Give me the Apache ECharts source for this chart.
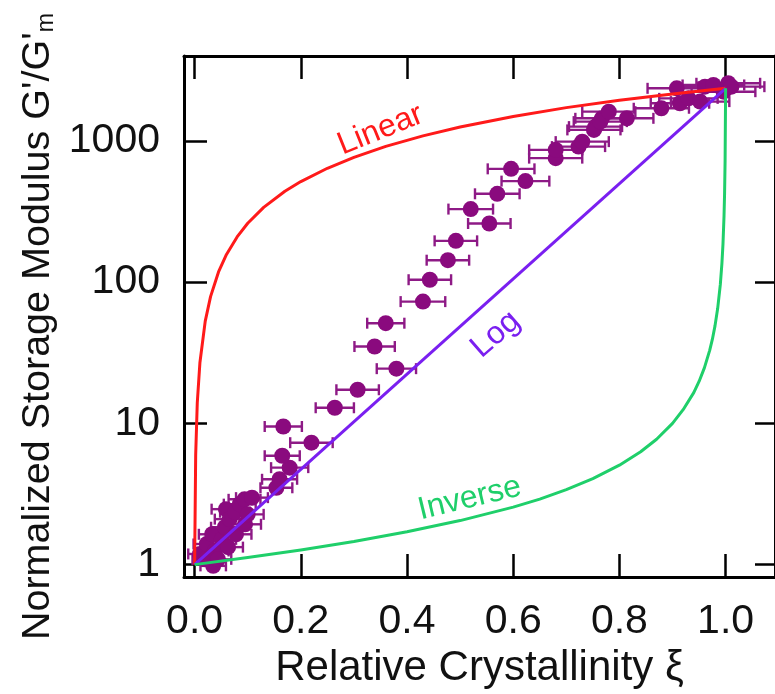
<!DOCTYPE html>
<html>
<head>
<meta charset="utf-8">
<script src="https://cdn.jsdelivr.net/npm/echarts@6/dist/echarts.min.js"></script>
<style>html,body{margin:0;padding:0;background:#fff}#chart{width:775px;height:694px}</style>
</head>
<body>
<div id="chart"></div>
<script>
// ---- axis ticks ----
var xTicks = [0, 0.2, 0.4, 0.6, 0.8, 1.0];
var yTicks = [1, 10, 100, 1000];

// ---- model curves ----
var linearXi = [0, 0.002, 0.005, 0.01, 0.02, 0.03, 0.045, 0.06, 0.08, 0.1, 0.13, 0.17, 0.2, 0.25, 0.3, 0.36, 0.43, 0.5, 0.6, 0.7, 0.8, 0.9, 1.0];
var linearG  = [1, 6, 14, 27, 53, 79, 118, 157, 209, 261, 338, 440, 515, 640, 765, 915, 1085, 1255, 1490, 1720, 1940, 2150, 2356];

var logXi = [0, 1.0];
var logG  = [1, 2356];

var inverseXi = [0, 0.1, 0.2, 0.3, 0.4, 0.5, 0.6, 0.65, 0.7, 0.75, 0.8, 0.84, 0.87, 0.9, 0.92, 0.94, 0.95, 0.96, 0.97, 0.975, 0.98, 0.985, 0.99, 0.993, 0.995, 0.997, 0.998, 0.999, 1.0];
var inverseG  = [1, 1.122, 1.269, 1.457, 1.708, 2.05, 2.555, 2.91, 3.393, 4.06, 5.06, 6.3, 7.72, 10.0, 12.5, 16.5, 19.8, 24.7, 32.9, 39.3, 49, 65, 96, 135, 185, 294, 417, 714, 2356];

// ---- measured data (xi, G'/G'm, xi error half-width) ----
var dataXi = [
  0.010, 0.020, 0.023, 0.033, 0.035, 0.038, 0.044, 0.051, 0.057, 0.059, 0.063, 0.066, 0.076, 0.078, 0.085, 0.094, 0.095, 0.100,
  0.108, 0.154, 0.160, 0.179, 0.165, 0.220, 0.167, 0.264, 0.307, 0.380, 0.339, 0.360, 0.430, 0.443, 0.477, 0.492, 0.555, 0.520,
  0.570, 0.623, 0.596, 0.680, 0.680, 0.723, 0.730, 0.755, 0.752, 0.767, 0.764, 0.780, 0.814, 0.879, 0.914, 0.908, 0.930, 0.952,
  0.961, 0.977, 0.996, 1.005, 1.011
];
var dataG = [
  1.19, 1.09, 1.40, 1.64, 0.98, 1.25, 1.09, 1.51, 1.84, 2.47, 1.33, 2.10, 2.35, 1.64, 2.68, 2.90, 1.93, 2.27,
  2.98, 3.5, 4.02, 4.86, 5.9, 7.3, 9.5, 12.9, 17.3, 24.4, 35, 51.2, 72.8, 104, 143, 196, 260, 329,
  422, 519, 634, 755, 864, 911, 988, 1262, 1196, 1445, 1369, 1610, 1445, 1702, 1847, 2356, 2000, 1897,
  2420, 2488, 2230, 2558, 2420
];
var dataErr = [
  0.022, 0.024, 0.025, 0.025, 0.024, 0.026, 0.025, 0.027, 0.026, 0.027, 0.028, 0.028, 0.028, 0.029, 0.03, 0.03, 0.03, 0.03,
  0.03, 0.03, 0.033, 0.035, 0.033, 0.04, 0.035, 0.036, 0.04, 0.037, 0.038, 0.035, 0.042, 0.04, 0.04, 0.04, 0.04, 0.042,
  0.042, 0.045, 0.044, 0.05, 0.05, 0.05, 0.05, 0.05, 0.05, 0.05, 0.05, 0.05, 0.05, 0.052, 0.055, 0.055, 0.055, 0.055,
  0.058, 0.058, 0.06, 0.06, 0.062
];

var RED = '#ff1a1a', PURPLE = '#7a1ff0', GREEN = '#1fcf6a', DOT = '#8a0a7e', BAR = '#8e1a86';
var FONT = '"Liberation Sans", Arial, sans-serif';

function pairs(xs, ys) { return xs.map(function (x, i) { return [x, ys[i]]; }); }

var scatterData = pairs(dataXi, dataG);
var errData = dataXi.map(function (x, i) { return [x - dataErr[i], x + dataErr[i], dataG[i]]; });

var X_MIN = -0.02, X_MAX = 1.093, Y_MIN = 0.816, Y_MAX = 3990;

var axisLine = { show: true, onZero: false, lineStyle: { color: '#000', width: 3 } };
var tickStyle = { color: '#000', width: 2.5 };

var chart = echarts.init(document.getElementById('chart'), null, { renderer: 'canvas' });

var option = {
  animation: false,
  backgroundColor: '#fff',
  grid: { left: 184, right: -2, top: 56, bottom: 116, containLabel: false },
  xAxis: [{
    type: 'value', position: 'bottom', min: X_MIN, max: X_MAX,
    name: 'Relative Crystallinity ξ', nameLocation: 'middle', nameGap: 66,
    nameTextStyle: { fontFamily: FONT, fontSize: 42, color: '#111' },
    axisLine: axisLine, splitLine: { show: false },
    axisTick: { show: true, inside: true, length: 23, lineStyle: tickStyle, customValues: xTicks },
    axisLabel: { show: true, margin: 24, fontFamily: FONT, fontSize: 41, color: '#111', customValues: xTicks,
      formatter: function (v) { return (+v).toFixed(1); } }
  }, {
    type: 'value', position: 'top', min: X_MIN, max: X_MAX,
    axisLine: axisLine, splitLine: { show: false },
    axisTick: { show: true, inside: true, length: 23, lineStyle: tickStyle, customValues: xTicks },
    axisLabel: { show: false }
  }],
  yAxis: [{
    type: 'log', logBase: 10, position: 'left', min: Y_MIN, max: Y_MAX,
    name: "Normalized Storage Modulus G'/G'{sub|m}", nameLocation: 'middle', nameGap: 120,
    nameTextStyle: { fontFamily: FONT, fontSize: 39.5, color: '#111', padding: [0, 20, 0, 0],
      rich: { sub: { fontFamily: FONT, fontSize: 23, color: '#111', verticalAlign: 'bottom', padding: [12, 0, 0, 0] } } },
    axisLine: axisLine, splitLine: { show: false }, minorTick: { show: false },
    axisTick: { show: true, inside: true, length: 23, lineStyle: tickStyle, customValues: yTicks },
    axisLabel: { show: true, margin: 24, fontFamily: FONT, fontSize: 41, color: '#111', customValues: yTicks,
      formatter: function (v) { return String(Math.round(v)); } }
  }, {
    type: 'log', logBase: 10, position: 'right', min: Y_MIN, max: Y_MAX,
    axisLine: axisLine, splitLine: { show: false },
    axisTick: { show: true, inside: true, length: 20, lineStyle: tickStyle, customValues: yTicks },
    axisLabel: { show: false }
  }],
  series: [
    {
      type: 'custom', name: 'error', xAxisIndex: 0, yAxisIndex: 0, z: 1,
      encode: { x: [0, 1], y: 2 },
      data: errData,
      renderItem: function (params, api) {
        var y = api.value(2);
        var p1 = api.coord([api.value(0), y]);
        var p2 = api.coord([api.value(1), y]);
        var h = 5.5;
        var st = { stroke: BAR, lineWidth: 2.4 };
        return { type: 'group', children: [
          { type: 'line', shape: { x1: p1[0], y1: p1[1], x2: p2[0], y2: p2[1] }, style: st },
          { type: 'line', shape: { x1: p1[0], y1: p1[1] - h, x2: p1[0], y2: p1[1] + h }, style: st },
          { type: 'line', shape: { x1: p2[0], y1: p2[1] - h, x2: p2[0], y2: p2[1] + h }, style: st }
        ] };
      }
    },
    {
      type: 'scatter', name: 'data', z: 2, symbol: 'circle', symbolSize: 16,
      itemStyle: { color: DOT, opacity: 1 },
      data: scatterData
    },
    {
      type: 'line', name: 'Linear', z: 3, showSymbol: false, symbol: 'none', smooth: false,
      lineStyle: { color: RED, width: 3, join: 'round' }, data: pairs(linearXi, linearG)
    },
    {
      type: 'line', name: 'Log', z: 3, showSymbol: false, symbol: 'none',
      lineStyle: { color: PURPLE, width: 3 }, data: pairs(logXi, logG)
    },
    {
      type: 'line', name: 'Inverse', z: 3, showSymbol: false, symbol: 'none', smooth: false,
      lineStyle: { color: GREEN, width: 3, join: 'round' }, data: pairs(inverseXi, inverseG)
    }
  ]
};
chart.setOption(option);

// curve labels anchored in data space
var curveLabels = [
  { text: 'Linear', at: [0.350, 1196], rot: 22, color: RED },
  { text: 'Log', at: [0.567, 42.6], rot: 41, color: PURPLE },
  { text: 'Inverse', at: [0.518, 2.94], rot: 13.6, color: GREEN }
];
var graphics = curveLabels.map(function (l) {
  var p = chart.convertToPixel({ xAxisIndex: 0, yAxisIndex: 0 }, l.at);
  return {
    type: 'text', x: p[0], y: p[1], rotation: l.rot * Math.PI / 180, z: 10,
    style: { text: l.text, fill: l.color, font: '32px ' + FONT, align: 'center', verticalAlign: 'middle' }
  };
});
chart.setOption({ graphic: graphics });
</script>
</body>
</html>
